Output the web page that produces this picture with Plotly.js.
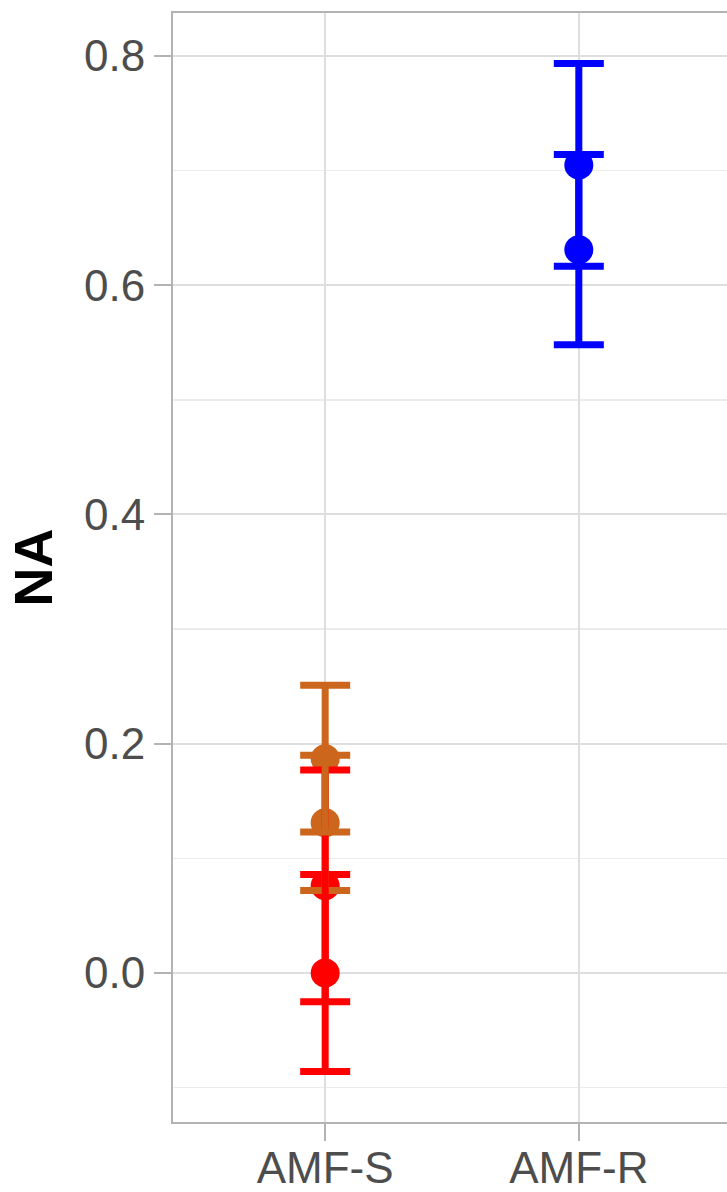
<!DOCTYPE html>
<html>
<head>
<meta charset="utf-8">
<script src="https://cdn.plot.ly/plotly-3.0.1.min.js"></script>
<style>
html, body { margin: 0; padding: 0; overflow: hidden; background: #ffffff; }
#chart { width: 735px; height: 1192px; }
</style>
</head>
<body>
<div id="chart"></div>
<script>
// ---- data ----
const categories = ['AMF-S', 'AMF-R'];

const redX = ['AMF-S', 'AMF-S'];
const redY = [0.000, 0.076];
const redErr = [0.086, 0.101];

const orangeX = ['AMF-S', 'AMF-S'];
const orangeY = [0.131, 0.187];
const orangeErr = [0.059, 0.064];

const blueX = ['AMF-R', 'AMF-R'];
const blueY = [0.631, 0.705];
const blueErr = [0.083, 0.0885];

const yTickVals = [0.0, 0.2, 0.4, 0.6, 0.8];
const yTickText = ['0.0', '0.2', '0.4', '0.6', '0.8'];
const yTitle = 'NA';

// ---- styling ----
const colRed = '#ff0000';
const colOrange = '#cd661d';
const colBlue = '#0000ff';
const FONT = 'Liberation Sans, Arial, sans-serif';

const groups = {
  red: {x: redX, y: redY, e: redErr, c: colRed},
  orange: {x: orangeX, y: orangeY, e: orangeErr, c: colOrange},
  blue: {x: blueX, y: blueY, e: blueErr, c: colBlue}
};

const traces = [];
// points first
for (const k of ['red', 'orange', 'blue']) {
  const g = groups[k];
  traces.push({
    type: 'scatter', mode: 'markers', x: g.x, y: g.y,
    marker: {color: g.c, size: 29, line: {width: 0}},
    showlegend: false, hoverinfo: 'x+y'
  });
}
// error bars drawn on top, in the layering order seen in the reference
const barOrder = [['red', 0], ['orange', 0], ['red', 1], ['orange', 1], ['blue', 0], ['blue', 1]];
for (const [k, i] of barOrder) {
  const g = groups[k];
  traces.push({
    type: 'scatter', mode: 'markers', x: [g.x[i]], y: [g.y[i]],
    marker: {color: g.c, size: 1, opacity: 0},
    error_y: {type: 'data', array: [g.e[i]], symmetric: true, visible: true,
              color: g.c, thickness: 7, width: 25},
    showlegend: false, hoverinfo: 'skip'
  });
}

const layout = {
  width: 735, height: 1192,
  margin: {l: 173, r: 4, t: 13, b: 70, pad: 0},
  paper_bgcolor: '#ffffff', plot_bgcolor: '#ffffff',
  font: {family: FONT, color: '#4d4d4d'},
  showlegend: false,
  xaxis: {
    type: 'category', categoryorder: 'array', categoryarray: categories,
    range: [-0.6, 1.6],
    showgrid: true, gridcolor: '#dedede', gridwidth: 2,
    zeroline: false,
    showline: true, mirror: true, linecolor: '#b3b3b3', linewidth: 2,
    ticks: 'outside', ticklen: 17, tickwidth: 2, tickcolor: '#b3b3b3',
    ticklabelstandoff: -11,
    tickfont: {family: FONT, size: 44, color: '#4d4d4d'},
    fixedrange: true
  },
  yaxis: {
    range: [-0.130, 0.8375],
    tickmode: 'array', tickvals: yTickVals, ticktext: yTickText,
    showgrid: true, gridcolor: '#dedede', gridwidth: 2,
    minor: {dtick: 0.1, tick0: 0, showgrid: true, gridcolor: '#ebebeb', gridwidth: 1.5, ticks: ''},
    zeroline: false,
    showline: true, mirror: true, linecolor: '#b3b3b3', linewidth: 2,
    ticks: 'outside', ticklen: 17, tickwidth: 2, tickcolor: '#b3b3b3',
    tickfont: {family: FONT, size: 44, color: '#4d4d4d'},
    title: {text: '<b>' + yTitle + '</b>', font: {family: FONT, size: 54, color: '#000000'}, standoff: 14},
    fixedrange: true
  }
};

Plotly.newPlot('chart', traces, layout, {staticPlot: true, displayModeBar: false});
</script>
</body>
</html>
